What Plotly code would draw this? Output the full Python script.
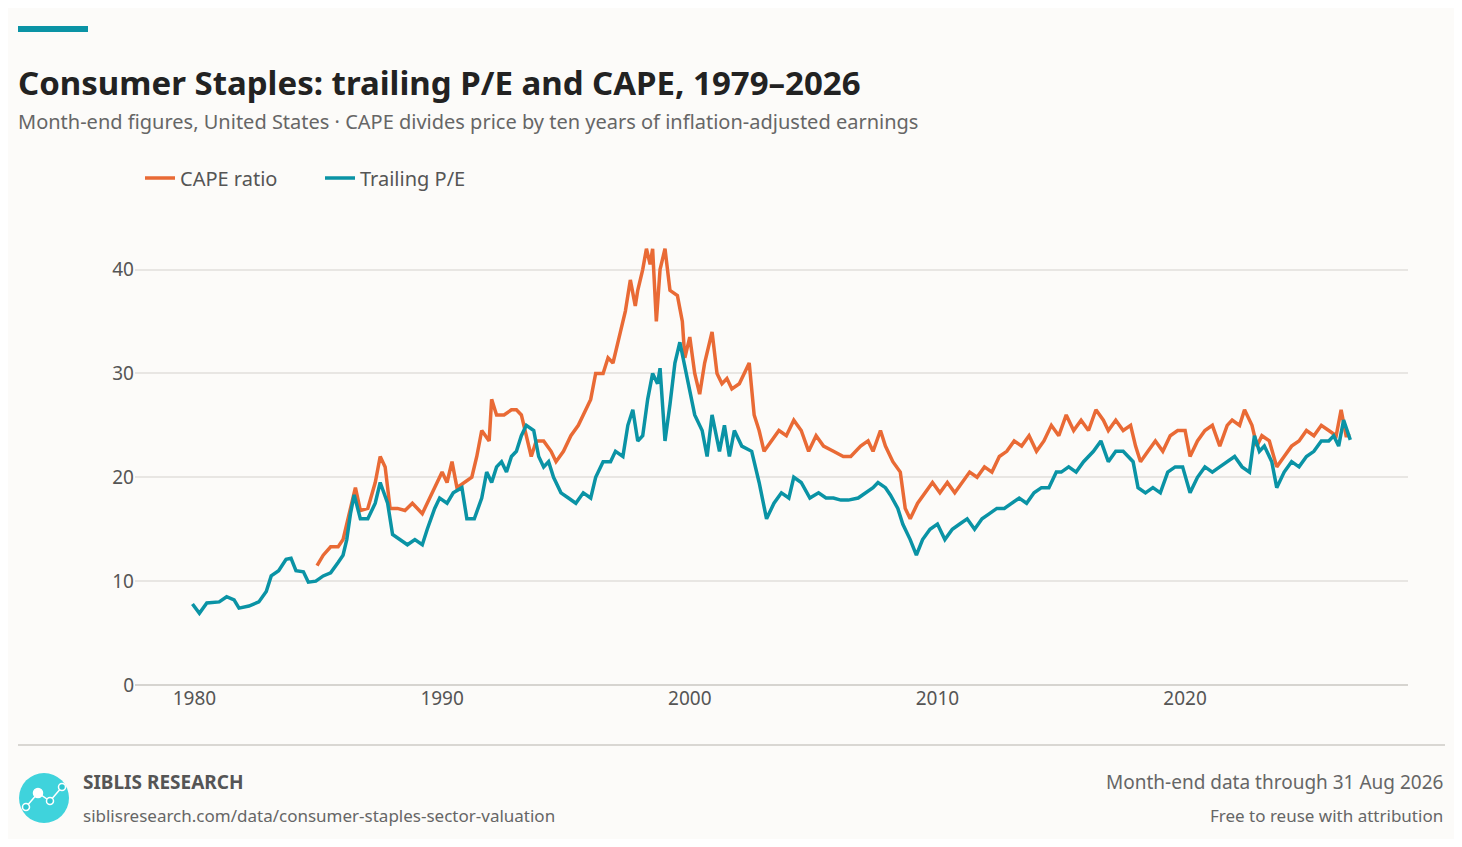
import plotly.graph_objects as go

pe_x = [1979.92,1980.2,1980.5,1981.0,1981.3,1981.6,1981.8,1982.2,1982.6,1982.9,1983.1,1983.4,1983.7,1983.9,1984.1,1984.4,1984.6,1984.9,1985.2,1985.5,1985.8,1986.0,1986.15,1986.3,1986.45,1986.7,1987.0,1987.3,1987.5,1987.8,1988.0,1988.3,1988.6,1988.9,1989.2,1989.4,1989.7,1989.9,1990.2,1990.45,1990.8,1991.0,1991.3,1991.6,1991.8,1992.0,1992.2,1992.4,1992.6,1992.8,1993.0,1993.2,1993.4,1993.7,1993.9,1994.1,1994.3,1994.5,1994.8,1995.1,1995.4,1995.7,1996.0,1996.2,1996.5,1996.8,1997.0,1997.3,1997.5,1997.7,1997.9,1998.1,1998.3,1998.5,1998.7,1998.8,1999.0,1999.2,1999.4,1999.6,1999.9,2000.0,2000.2,2000.5,2000.7,2000.9,2001.2,2001.4,2001.6,2001.8,2002.1,2002.5,2002.8,2003.1,2003.4,2003.7,2004.0,2004.2,2004.5,2004.85,2005.2,2005.5,2005.8,2006.1,2006.4,2006.8,2007.1,2007.4,2007.6,2007.9,2008.1,2008.4,2008.6,2008.9,2009.15,2009.4,2009.7,2010.0,2010.3,2010.6,2010.9,2011.2,2011.5,2011.8,2012.1,2012.4,2012.7,2013.0,2013.3,2013.6,2013.9,2014.2,2014.5,2014.8,2015.0,2015.3,2015.6,2015.9,2016.3,2016.6,2016.9,2017.2,2017.5,2017.9,2018.1,2018.4,2018.7,2019.0,2019.3,2019.6,2019.9,2020.2,2020.5,2020.8,2021.1,2021.4,2021.7,2022.0,2022.3,2022.6,2022.8,2023.0,2023.2,2023.5,2023.7,2024.0,2024.3,2024.6,2024.9,2025.2,2025.5,2025.8,2026.0,2026.2,2026.4,2026.6,2026.67]
pe_y = [7.8,6.9,7.9,8.0,8.5,8.2,7.4,7.6,8.0,9.0,10.5,11.0,12.1,12.2,11.0,10.9,9.9,10.0,10.5,10.8,11.8,12.5,14.0,16.5,18.3,16.0,16.0,17.5,19.5,17.5,14.5,14.0,13.5,14.0,13.5,15.0,17.0,18.0,17.5,18.5,19.0,16.0,16.0,18.0,20.5,19.5,21.0,21.5,20.5,22.0,22.5,24.0,25.0,24.5,22.0,21.0,21.5,20.0,18.5,18.0,17.5,18.5,18.0,20.0,21.5,21.5,22.5,22.0,25.0,26.5,23.5,24.0,27.5,30.0,29.0,30.5,23.5,27.0,31.0,33.0,29.5,28.5,26.0,24.5,22.0,26.0,22.5,25.0,22.0,24.5,23.0,22.5,19.5,16.0,17.5,18.5,18.0,20.0,19.5,18.0,18.5,18.0,18.0,17.8,17.8,18.0,18.5,19.0,19.5,19.0,18.3,17.0,15.5,14.0,12.5,14.0,15.0,15.5,14.0,15.0,15.5,16.0,15.0,16.0,16.5,17.0,17.0,17.5,18.0,17.5,18.5,19.0,19.0,20.5,20.5,21.0,20.5,21.5,22.5,23.5,21.5,22.5,22.5,21.5,19.0,18.5,19.0,18.5,20.5,21.0,21.0,18.5,20.0,21.0,20.5,21.0,21.5,22.0,21.0,20.5,24.0,22.5,23.0,21.5,19.0,20.5,21.5,21.0,22.0,22.5,23.5,23.5,24.0,23.0,25.5,24.0,23.6]
cape_x = [1984.95,1985.2,1985.5,1985.8,1986.0,1986.2,1986.5,1986.7,1987.0,1987.3,1987.5,1987.7,1987.9,1988.2,1988.5,1988.8,1989.2,1989.5,1989.8,1990.0,1990.2,1990.4,1990.6,1990.9,1991.2,1991.4,1991.6,1991.9,1992.0,1992.2,1992.5,1992.8,1993.0,1993.2,1993.4,1993.6,1993.8,1994.1,1994.4,1994.6,1994.9,1995.2,1995.5,1995.8,1996.0,1996.2,1996.5,1996.7,1996.9,1997.2,1997.4,1997.6,1997.8,1997.9,1998.1,1998.25,1998.4,1998.5,1998.65,1998.8,1999.0,1999.2,1999.5,1999.7,1999.8,2000.0,2000.2,2000.4,2000.6,2000.9,2001.1,2001.3,2001.5,2001.7,2002.0,2002.3,2002.4,2002.6,2002.8,2003.0,2003.3,2003.6,2003.9,2004.2,2004.5,2004.8,2005.1,2005.4,2005.8,2006.2,2006.5,2006.9,2007.2,2007.4,2007.7,2007.9,2008.2,2008.5,2008.7,2008.9,2009.2,2009.5,2009.8,2010.1,2010.4,2010.7,2011.0,2011.3,2011.6,2011.9,2012.2,2012.5,2012.8,2013.1,2013.4,2013.7,2014.0,2014.3,2014.6,2014.9,2015.2,2015.5,2015.8,2016.1,2016.4,2016.7,2016.9,2017.2,2017.5,2017.8,2018.0,2018.2,2018.5,2018.8,2019.1,2019.4,2019.7,2020.0,2020.2,2020.5,2020.8,2021.1,2021.4,2021.7,2021.9,2022.2,2022.4,2022.7,2022.9,2023.1,2023.4,2023.7,2024.0,2024.3,2024.6,2024.9,2025.2,2025.5,2025.8,2026.1,2026.3,2026.5,2026.67]
cape_y = [11.5,12.5,13.3,13.3,14.0,16.0,19.0,16.8,17.0,19.5,22.0,21.0,17.0,17.0,16.8,17.5,16.5,18.0,19.5,20.5,19.5,21.5,19.0,19.5,20.0,22.0,24.5,23.5,27.5,26.0,26.0,26.5,26.5,26.0,24.0,22.0,23.5,23.5,22.5,21.5,22.5,24.0,25.0,26.5,27.5,30.0,30.0,31.5,31.0,34.0,36.0,39.0,36.5,38.0,40.0,42.0,40.5,42.0,35.0,40.0,42.0,38.0,37.5,35.0,31.5,33.5,30.0,28.0,31.0,34.0,30.0,29.0,29.5,28.5,29.0,30.5,31.0,26.0,24.5,22.5,23.5,24.5,24.0,25.5,24.5,22.5,24.0,23.0,22.5,22.0,22.0,23.0,23.5,22.5,24.5,23.0,21.5,20.5,17.0,16.0,17.5,18.5,19.5,18.5,19.5,18.5,19.5,20.5,20.0,21.0,20.5,22.0,22.5,23.5,23.0,24.0,22.5,23.5,25.0,24.0,26.0,24.5,25.5,24.5,26.5,25.5,24.5,25.5,24.5,25.0,23.0,21.5,22.5,23.5,22.5,24.0,24.5,24.5,22.0,23.5,24.5,25.0,23.0,25.0,25.5,25.0,26.5,25.0,23.0,24.0,23.5,21.0,22.0,23.0,23.5,24.5,24.0,25.0,24.5,24.0,26.5,24.0,24.0]
n = min(len(pe_x), len(pe_y)); pe_x, pe_y = pe_x[:n], pe_y[:n]
n = min(len(cape_x), len(cape_y)); cape_x, cape_y = cape_x[:n], cape_y[:n]

x_ticks = [1980, 1990, 2000, 2010, 2020]
y_ticks = [0, 10, 20, 30, 40]

ORANGE = "#e96a35"; TEAL = "#0a93a5"; BG = "#fcfbf9"
OFF = 8  # page body margin
W, H = 1462 - 2 * OFF, 847 - 2 * OFF
L, R, T, B = 135 - OFF, 1408 - OFF, 228 - OFF, 685 - OFF
def px(x): return (x - OFF - L) / (R - L)
def py(y): return (B - (y - OFF)) / (B - T)

fig = go.Figure()
fig.add_trace(go.Scatter(x=cape_x, y=cape_y, name="CAPE ratio", mode="lines",
                         line=dict(color=ORANGE, width=3.5)))
fig.add_trace(go.Scatter(x=pe_x, y=pe_y, name="Trailing P/E", mode="lines",
                         line=dict(color=TEAL, width=3.5)))
F = "Noto Sans"
fig.update_layout(
    width=W, height=H, paper_bgcolor=BG, plot_bgcolor=BG,
    margin=dict(l=L, r=W - R, t=T, b=H - B),
    font=dict(family=F, color="#555"),
    showlegend=True,
    legend=dict(orientation="h", x=px(140), y=py(178), xanchor="left", yanchor="middle",
                font=dict(size=20, color="#555"), bgcolor="rgba(0,0,0,0)",
                entrywidth=135, entrywidthmode="pixels"),
    xaxis=dict(range=[1977.6, 2029.0], tickvals=x_ticks, showgrid=False, zeroline=False,
               showline=False, tickfont=dict(size=19, color="#555"), ticks=""),
    yaxis=dict(range=[0, 44], tickvals=y_ticks, showgrid=True, gridcolor="#e8e6e3", gridwidth=2,
               zeroline=False, tickfont=dict(size=19, color="#555"), ticks="", ticklen=0),
)
shapes = [
    dict(type="line", xref="paper", yref="paper", x0=0, x1=1, y0=0, y1=0, line=dict(color="#d6d4d0", width=2)),
    dict(type="rect", xref="paper", yref="paper", x0=px(18), x1=px(88), y0=py(26), y1=py(32), fillcolor=TEAL, line=dict(width=0)),
    dict(type="line", xref="paper", yref="paper", x0=px(18), x1=px(1445), y0=py(745), y1=py(745), line=dict(color="#d9d7d3", width=2)),
    dict(type="circle", xref="paper", yref="paper", x0=px(19), x1=px(69), y0=py(823), y1=py(773), fillcolor="#3fd3dc", line=dict(width=0)),
    dict(type="path", xref="paper", yref="paper",
         path=f"M {px(26)},{py(807)} L {px(38)},{py(793)} L {px(50)},{py(801)} L {px(62)},{py(787)}",
         line=dict(color="white", width=1.5)),
]
for cx, cy, r in [(26, 807, 3.5), (38, 793, 4.5), (50, 801, 3.5), (62, 787, 3.5)]:
    shapes.append(dict(type="circle", xref="paper", yref="paper", x0=px(cx - r), x1=px(cx + r),
                       y0=py(cy + r), y1=py(cy - r), fillcolor="#2ec6d0" if r < 4 else "white",
                       line=dict(color="white", width=1.5)))
fig.update_layout(shapes=shapes)

def ann(x, y, text, size, color, xanchor="left", bold=False):
    fig.add_annotation(xref="paper", yref="paper", x=px(x), y=py(y), text=(f"<b>{text}</b>" if bold else text),
                       showarrow=False, xanchor=xanchor, yanchor="middle",
                       font=dict(family=F, size=size, color=color))
ann(16, 83, "Consumer Staples: trailing P/E and CAPE, 1979–2026", 33, "#222", bold=True)
ann(16, 122, "Month-end figures, United States · CAPE divides price by ten years of inflation-adjusted earnings", 20, "#666")
ann(81, 782, "SIBLIS RESEARCH", 19, "#555", bold=True)
ann(81, 815, "siblisresearch.com/data/consumer-staples-sector-valuation", 17, "#666")
ann(1445, 782, "Month-end data through 31 Aug 2026", 19, "#666", xanchor="right")
ann(1445, 815, "Free to reuse with attribution", 17, "#666", xanchor="right")

fig.write_html("out.html")
